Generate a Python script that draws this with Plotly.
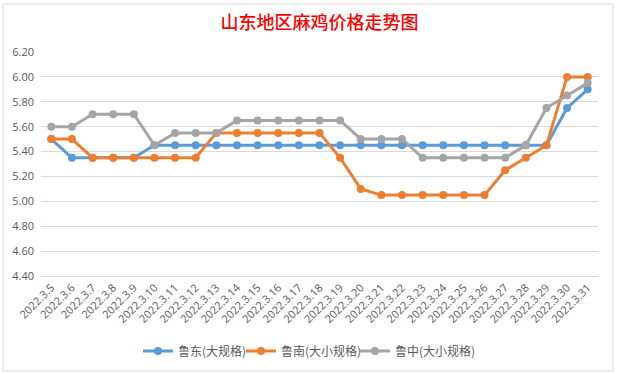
import plotly.graph_objects as go

dates = ["2022.3.5", "2022.3.6", "2022.3.7", "2022.3.8", "2022.3.9", "2022.3.10", "2022.3.11",
         "2022.3.12", "2022.3.13", "2022.3.14", "2022.3.15", "2022.3.16", "2022.3.17", "2022.3.18",
         "2022.3.19", "2022.3.20", "2022.3.21", "2022.3.22", "2022.3.23", "2022.3.24", "2022.3.25",
         "2022.3.26", "2022.3.27", "2022.3.28", "2022.3.29", "2022.3.30", "2022.3.31"]

ludong = [5.50, 5.35, 5.35, 5.35, 5.35, 5.45, 5.45, 5.45, 5.45, 5.45, 5.45, 5.45, 5.45, 5.45,
          5.45, 5.45, 5.45, 5.45, 5.45, 5.45, 5.45, 5.45, 5.45, 5.45, 5.45, 5.75, 5.90]
lunan = [5.50, 5.50, 5.35, 5.35, 5.35, 5.35, 5.35, 5.35, 5.55, 5.55, 5.55, 5.55, 5.55, 5.55,
         5.35, 5.10, 5.05, 5.05, 5.05, 5.05, 5.05, 5.05, 5.25, 5.35, 5.45, 6.00, 6.00]
luzhong = [5.60, 5.60, 5.70, 5.70, 5.70, 5.45, 5.55, 5.55, 5.55, 5.65, 5.65, 5.65, 5.65, 5.65,
           5.65, 5.50, 5.50, 5.50, 5.35, 5.35, 5.35, 5.35, 5.35, 5.45, 5.75, 5.85, 5.95]

series_names = ["鲁东(大规格)", "鲁南(大小规格)", "鲁中(大小规格)"]
colors = ["#5B9BD5", "#ED7D31", "#A5A5A5"]
y_ticks = [4.40, 4.60, 4.80, 5.00, 5.20, 5.40, 5.60, 5.80, 6.00, 6.20]

legend_ids = ["legend", "legend2", "legend3"]
legend_px = [138, 241, 355]

fig = go.Figure()
for name, vals, c, lg in zip(series_names, [ludong, lunan, luzhong], colors, legend_ids):
    fig.add_trace(go.Scatter(
        x=dates, y=vals, name=name, mode="lines+markers",
        line=dict(color=c, width=3),
        marker=dict(color=c, size=8),
        legend=lg,
    ))

legend_common = dict(orientation="h", xanchor="left", y=-75 / 224, yanchor="middle",
                     font=dict(size=12, color="#595959"), itemwidth=30,
                     bgcolor="rgba(0,0,0,0)")

fig.update_layout(
    width=618, height=374, autosize=False,
    paper_bgcolor="white", plot_bgcolor="white",
    margin=dict(l=41, r=20, t=52, b=98, autoexpand=False),
    title=dict(text="山东地区麻鸡价格走势图", x=0.5, xanchor="center", xref="paper",
               y=1 - 23 / 374, yref="container", yanchor="middle",
               font=dict(family="Noto Sans CJK SC", size=18, color="#FF0000", weight=500)),
    font=dict(family="Noto Sans CJK SC", color="#595959"),
    legend=dict(x=(legend_px[0] - 41) / 557, **legend_common),
    legend2=dict(x=(legend_px[1] - 41) / 557, **legend_common),
    legend3=dict(x=(legend_px[2] - 41) / 557, **legend_common),
    showlegend=True,
    shapes=[dict(type="rect", xref="paper", yref="paper",
                 x0=-38 / 557, x1=1 + 15 / 557, y0=-95 / 224, y1=1 + 48 / 224,
                 line=dict(color="#D9D9D9", width=1))],
)
fig.update_xaxes(type="category", range=[-0.5, len(dates) - 0.5], tickangle=-45, automargin=False,
                 tickfont=dict(family="Open Sans", size=11, color="#595959"),
                 showgrid=False, showline=True, linecolor="#D9D9D9", ticks="")
fig.update_yaxes(range=[4.40, 6.20], tickvals=y_ticks, tickformat=".2f", automargin=False,
                 tickfont=dict(family="Open Sans", size=11, color="#595959"),
                 showgrid=True, gridcolor="#D9D9D9", gridwidth=1, zeroline=False,
                 showline=False, ticklabelstandoff=6)

fig.write_html("out.html", config={"displayModeBar": False},
               post_script="document.body.style.margin='0';")
